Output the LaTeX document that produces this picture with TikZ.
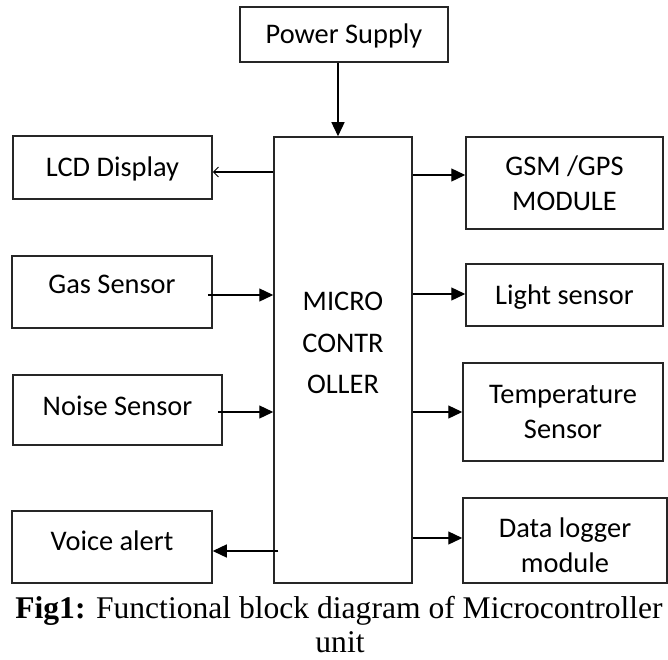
\documentclass[tikz,border=0pt]{standalone}
\usepackage{fontspec}
\setmainfont{Liberation Serif}
\newfontfamily\boxfont{Carlito}
\usetikzlibrary{arrows.meta}
\begin{document}
\begin{tikzpicture}[x=1bp,y=-1bp,
  blk/.style={draw=black!85, line width=1.5bp, fill=white, inner sep=0pt,
    font=\boxfont\fontsize{28.5}{35}\selectfont, align=center},
  one/.style={text height=18bp, text depth=#1},
  arr/.style={line width=1.3bp, -{Triangle[length=14bp,width=13bp]}},
  barb/.style={line width=1.3bp, -{Straight Barb[length=5bp,width=10bp,line width=1bp]}},
  captext/.style={inner sep=0pt, anchor=base, font=\fontsize{31.7}{35}\selectfont}]
\useasboundingbox (0,0) rectangle (668,660);

% boxes
\node[blk, one=0bp, minimum width=208bp, minimum height=55bp] (power) at (344,34.5) {Power Supply};
\node[blk, minimum width=138bp, minimum height=446bp] (mcu) at (343,360) {};
\node[font=\boxfont\fontsize{28.5}{41.5}\selectfont, align=center, inner sep=0pt]
  (mcutext) at ([yshift=17bp]mcu.center) {MICRO\\CONTR\\OLLER};

\node[blk, one=0bp, minimum width=199bp, minimum height=63bp] (lcd) at (112.5,167.5) {LCD Display};
\node[blk, one=16bp, minimum width=200bp, minimum height=72bp] (gas) at (112,292) {Gas Sensor};
\node[blk, one=8bp, minimum width=209bp, minimum height=70bp] (noise) at (117.5,410) {Noise Sensor};
\node[blk, one=12bp, minimum width=200bp, minimum height=72bp] (voice) at (112,547) {Voice alert};

\node[blk, minimum width=197bp, minimum height=92bp] (gsm) at (564.5,183) {GSM /GPS\\MODULE};
\node[blk, one=0bp, minimum width=197bp, minimum height=62bp] (light) at (564.5,295) {Light sensor};
\node[blk, minimum width=200bp, minimum height=98bp] (temp) at (563,412) {Temperature\\Sensor};
\node[blk, minimum width=204bp, minimum height=85bp] (data) at (565,540.5) {\rule{0pt}{29bp}Data logger\\module};

% connectors
\draw[arr] (power.south -| 338,0) -- (mcu.north -| 338,0);
\draw[barb] (mcu.west |- 0,172) -- (lcd.east |- 0,172);
\draw[arr] ([xshift=-5bp]gas.east |- 0,295) -- (mcu.west |- 0,295);
\draw[arr] ([xshift=-5bp]noise.east |- 0,412) -- (mcu.west |- 0,412);
\draw[arr] ([xshift=5bp]mcu.west |- 0,551) -- (voice.east |- 0,551);
\draw[arr] (mcu.east |- 0,175) -- (gsm.west |- 0,175);
\draw[arr] (mcu.east |- 0,294) -- (light.west |- 0,294);
\draw[arr] (mcu.east |- 0,412) -- (temp.west |- 0,412);
\draw[arr] (mcu.east |- 0,538) -- (data.west |- 0,538);

% caption
\node[captext] (cap1) at (339,618) {\textbf{Fig1:} Functional block diagram of Microcontroller};
\node[captext] (cap2) at (340,652) {unit};
\end{tikzpicture}
\end{document}
